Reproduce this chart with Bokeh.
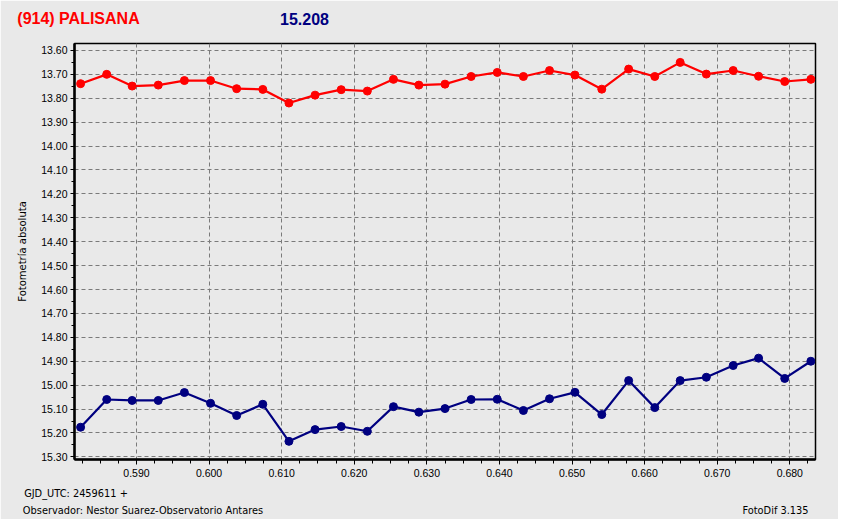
from bokeh.plotting import figure
from bokeh.models import Range1d, FixedTicker, NumeralTickFormatter, LinearAxis
from bokeh.embed import file_html
from bokeh.resources import INLINE

# ---- data ----
jd = [0.5823, 0.5859, 0.5894, 0.5930, 0.5966, 0.6002, 0.6038, 0.6074, 0.6110, 0.6146,
      0.6182, 0.6218, 0.6254, 0.6289, 0.6325, 0.6361, 0.6397, 0.6433, 0.6469, 0.6504,
      0.6541, 0.6578, 0.6614, 0.6649, 0.6685, 0.6722, 0.6757, 0.6793, 0.6829]
mag_ref = [13.739, 13.700, 13.749, 13.745, 13.726, 13.726, 13.760, 13.763, 13.820, 13.787,
           13.764, 13.770, 13.721, 13.745, 13.741, 13.709, 13.692, 13.709, 13.684, 13.703,
           13.762, 13.678, 13.709, 13.650, 13.699, 13.684, 13.708, 13.730, 13.721]
mag_obj = [15.176, 15.060, 15.064, 15.064, 15.031, 15.076, 15.127, 15.080, 15.235, 15.186,
           15.173, 15.193, 15.090, 15.113, 15.098, 15.060, 15.059, 15.106, 15.057, 15.030,
           15.123, 14.981, 15.094, 14.981, 14.967, 14.918, 14.887, 14.972, 14.900]
x_ticks = [0.59, 0.60, 0.61, 0.62, 0.63, 0.64, 0.65, 0.66, 0.67, 0.68]
y_ticks = [13.6, 13.7, 13.8, 13.9, 14.0, 14.1, 14.2, 14.3, 14.4, 14.5, 14.6, 14.7, 14.8,
           14.9, 15.0, 15.1, 15.2, 15.3]
title_name = "(914) PALISANA"
title_value = "15.208"
y_label = "Fotometría absoluta"
footer_jd = "GJD_UTC: 2459611 +"
footer_obs = "Observador: Nestor Suarez-Observatorio Antares"
footer_sw = "FotoDif 3.135"

# ---- layout (page pixel coords) ----
W, H = 838, 519
FL, FR, FT, FB = 74, 815, 43, 459
X0, X1 = 0.58146, 0.68354
Y_TOP, Y_BOT = 13.571, 15.311

BG = "#E9E9E9"
RED = "#FF0000"
NAVY = "#000080"


def dx(px):
    return round(X0 + (px - FL) / (FR - FL) * (X1 - X0), 6)


p = figure(width=W, height=H, output_backend="svg", toolbar_location=None,
           x_range=Range1d(X0, X1), y_range=Range1d(Y_BOT, Y_TOP),
           min_border_left=FL, min_border_right=W - FR,
           min_border_top=FT, min_border_bottom=H - FB)
p.background_fill_color = BG
p.border_fill_color = BG
p.outline_line_color = "black"
p.outline_line_width = 1.5

xa = p.below[0]
ya = p.left[0]
for ax in (xa, ya):
    ax.axis_line_width = 2.5
    ax.axis_line_color = "black"
    ax.major_tick_line_color = "black"
    ax.minor_tick_line_color = "black"
    ax.major_tick_in = 0
    ax.minor_tick_in = 0
    ax.major_label_text_font = "Liberation Sans"
    ax.major_label_text_font_size = "10.5px"
    ax.major_label_text_color = "black"

xa.ticker = FixedTicker(ticks=x_ticks, minor_ticks=[round(0.58 + 0.0025 * i, 4) for i in range(42)])
ya.ticker = FixedTicker(ticks=y_ticks, minor_ticks=[round(13.55 + 0.05 * i, 3) for i in range(37)])
xa.formatter = NumeralTickFormatter(format="0.000")
ya.formatter = NumeralTickFormatter(format="0.00")
xa.major_tick_out = 5
xa.minor_tick_out = 4
ya.major_tick_out = 4
ya.minor_tick_out = 3
xa.major_label_standoff = 4
ya.major_label_standoff = 3

ya.axis_label = y_label
ya.axis_label_text_font = "DejaVu Sans"
ya.axis_label_text_font_style = "normal"
ya.axis_label_text_font_size = "10px"
ya.axis_label_text_color = "black"
ya.axis_label_standoff = 10

p.grid.grid_line_color = "#7A7A7A"
p.grid.grid_line_dash = "4 3"
p.grid.grid_line_width = 1

p.line(jd, mag_ref, line_color=RED, line_width=2.2)
p.scatter(jd, mag_ref, marker="circle", size=8, fill_color=RED, line_color=RED)
p.line(jd, mag_obj, line_color=NAVY, line_width=2.2)
p.scatter(jd, mag_obj, marker="circle", size=8, fill_color=NAVY, line_color=NAVY)


def text_axis(ticks, labels, color, font, size, style, standoff):
    ax = LinearAxis(ticker=FixedTicker(ticks=ticks, minor_ticks=[]),
                    major_label_overrides=dict(zip(ticks, labels)))
    ax.axis_line_color = None
    ax.major_tick_line_color = None
    ax.minor_tick_line_color = None
    ax.major_tick_out = 0
    ax.major_tick_in = 0
    ax.major_label_standoff = standoff
    ax.major_label_text_color = color
    ax.major_label_text_font = font
    ax.major_label_text_font_size = size
    ax.major_label_text_font_style = style
    return ax


# title row: two text-only axes sharing one row
top1 = text_axis([dx(78)], [title_name], RED, "Liberation Sans", "16px", "bold", 17)
p.add_layout(top1, "above")
top2 = text_axis([dx(304)], [title_value], NAVY, "Liberation Sans", "16px", "bold", -18)
p.add_layout(top2, "above")

# footers
foot1 = text_axis([dx(75.5)], [footer_jd], "black", "DejaVu Sans", "9.8px", "normal", 8)
p.add_layout(foot1, "below")
foot2 = text_axis([dx(142.5), dx(775)], [footer_obs, footer_sw], "black", "DejaVu Sans", "9.8px", "normal", 3)
p.add_layout(foot2, "below")

open("out.html", "w").write(file_html(p, INLINE))
